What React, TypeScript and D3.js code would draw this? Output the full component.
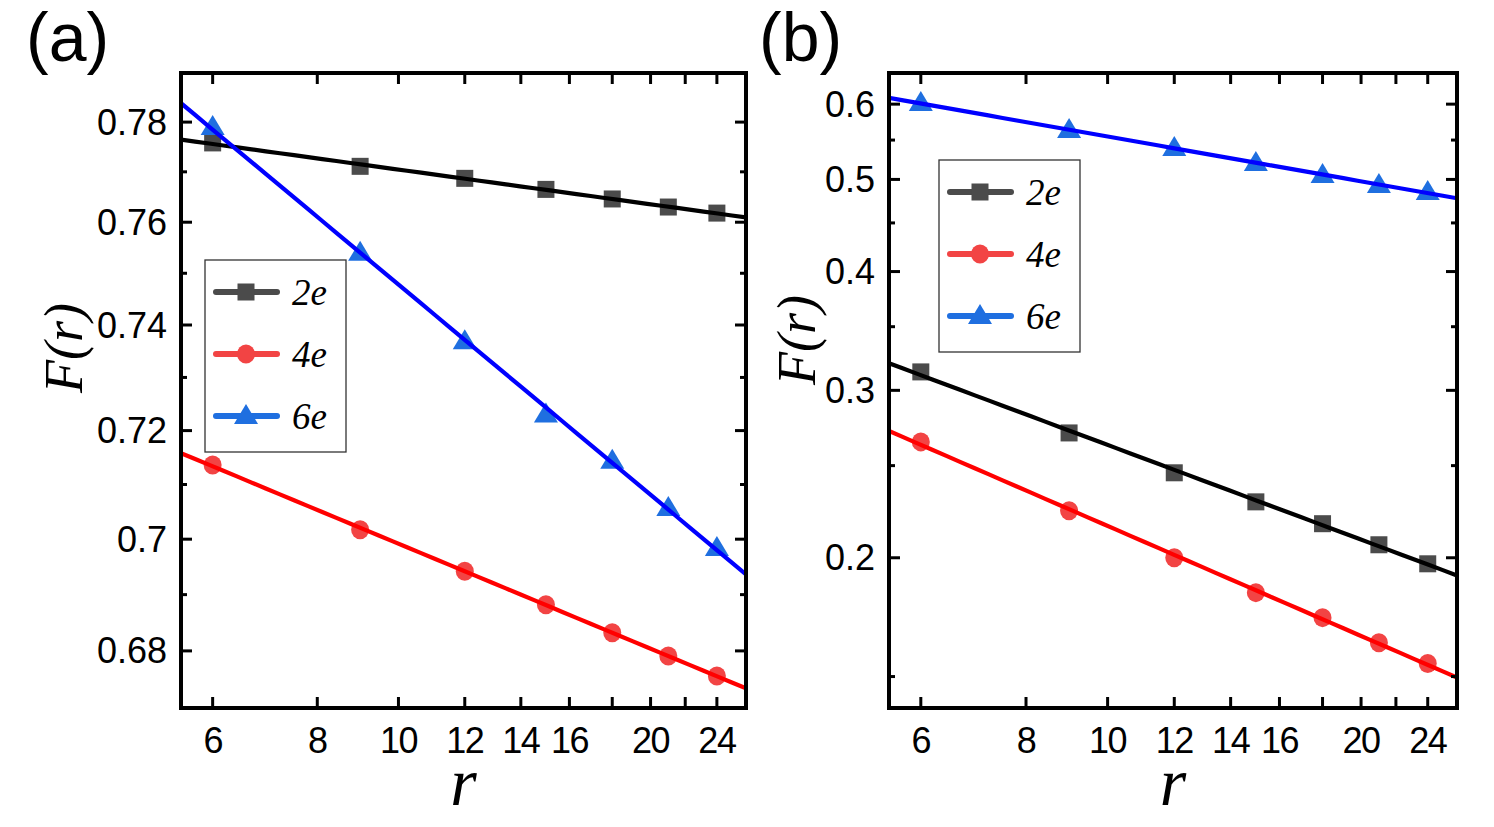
import React from "react";
import * as d3 from "d3";

const rValues = [6, 9, 12, 15, 18, 21, 24];
const a2e = [0.7758, 0.7711, 0.7687, 0.7665, 0.7646, 0.763, 0.7618];
const a4e = [0.7136, 0.7017, 0.6942, 0.6882, 0.6832, 0.6791, 0.6756];
const a6e = [0.779, 0.754, 0.7369, 0.723, 0.7144, 0.7057, 0.6984];
const b2e = [0.3137, 0.2706, 0.2457, 0.229, 0.2172, 0.2064, 0.1971];
const b4e = [0.2648, 0.2241, 0.2, 0.1838, 0.173, 0.1628, 0.1548];
const b6e = [0.6015, 0.5635, 0.5395, 0.5203, 0.5053, 0.4933, 0.485];

const xDomain = [5.5, 26];
const xTicks = [6, 8, 10, 12, 14, 16, 18, 20, 22, 24];
const xTickLabels = ["6", "8", "10", "12", "14", "16", "", "20", "", "24"];

const aYDomain = [0.67, 0.79];
const aYMajor = [0.68, 0.7, 0.72, 0.74, 0.76, 0.78];
const aYMajorLabels = ["0.68", "0.7", "0.72", "0.74", "0.76", "0.78"];
const aYMinor = [0.69, 0.71, 0.73, 0.75, 0.77];

const bYDomain = [0.139, 0.647];
const bYMajor = [0.2, 0.3, 0.4, 0.5, 0.6];
const bYMajorLabels = ["0.2", "0.3", "0.4", "0.5", "0.6"];
const bYMinor = [0.15, 0.25, 0.35, 0.45, 0.55];

const seriesNames = ["2e", "4e", "6e"];
const markerColors = ["#4b4b4b", "#f24444", "#1f6fe0"];
const fitColors = ["#000000", "#ff0000", "#0000ff"];
const markerShapes = ["square", "circle", "triangle"];

const SANS = "'Liberation Sans', Arial, sans-serif";
const SERIF = "'Liberation Serif', 'Times New Roman', serif";

function fitPower(xs: number[], ys: number[]) {
  const lx = xs.map(Math.log);
  const ly = ys.map(Math.log);
  const mx = d3.mean(lx)!;
  const my = d3.mean(ly)!;
  let num = 0;
  let den = 0;
  lx.forEach((v, i) => {
    num += (v - mx) * (ly[i] - my);
    den += (v - mx) * (v - mx);
  });
  const b = num / den;
  const a = my - b * mx;
  return (x: number) => Math.exp(a + b * Math.log(x));
}

function Marker({ shape, x, y, color }: { shape: string; x: number; y: number; color: string }) {
  if (shape === "square") {
    const s = 17;
    return <rect x={x - s / 2} y={y - s / 2} width={s} height={s} fill={color} />;
  }
  if (shape === "circle") {
    return <ellipse cx={x} cy={y} rx={9} ry={9.5} fill={color} />;
  }
  const w = 24;
  const h = 20;
  const p = `M${x},${y - h * 0.6} L${x + w / 2},${y + h * 0.4} L${x - w / 2},${y + h * 0.4} Z`;
  return <path d={p} fill={color} />;
}

type PanelProps = {
  left: number;
  right: number;
  top: number;
  bottom: number;
  yDomain: number[];
  yMajor: number[];
  yMajorLabels: string[];
  yMinor: number[];
  series: number[][];
  label: string;
  labelX: number;
  legendX: number;
  legendY: number;
  yTitleX: number;
  yTitleY: number;
};

function Panel(p: PanelProps) {
  const x = d3.scaleLog().domain(xDomain).range([p.left, p.right]);
  const y = d3.scaleLog().domain(p.yDomain).range([p.bottom, p.top]);
  const majorLen = 11;
  const minorLen = 6;
  const fitXs = d3.range(0, 41).map((i) => xDomain[0] * Math.pow(xDomain[1] / xDomain[0], i / 40));
  const legW = 141;
  const legH = 192;
  const clipId = "clip" + p.label.replace(/[()]/g, "");
  return (
    <g>
      <defs>
        <clipPath id={clipId}>
          <rect x={p.left} y={p.top} width={p.right - p.left} height={p.bottom - p.top} />
        </clipPath>
      </defs>
      {p.series.map((vals, si) =>
        vals.map((v, i) => (
          <Marker key={`${si}-${i}`} shape={markerShapes[si]} x={x(rValues[i])} y={y(v)} color={markerColors[si]} />
        ))
      )}
      <g clipPath={`url(#${clipId})`}>
        {p.series.map((vals, si) => {
          const f = fitPower(rValues, vals);
          const d = d3
            .line<number>()
            .x((xx) => x(xx))
            .y((xx) => y(f(xx)))(fitXs);
          return <path key={si} d={d || ""} fill="none" stroke={fitColors[si]} strokeWidth={4.2} />;
        })}
      </g>
      {xTicks.map((t, i) => (
        <g key={"xt" + i}>
          <line x1={x(t)} x2={x(t)} y1={p.bottom} y2={p.bottom - majorLen} stroke="#000" strokeWidth={3} />
          <line x1={x(t)} x2={x(t)} y1={p.top} y2={p.top + majorLen} stroke="#000" strokeWidth={3} />
          {xTickLabels[i] && (
            <text
              x={x(t)}
              y={p.bottom + 45}
              textAnchor="middle"
              fontFamily={SANS}
              fontSize={36}
              letterSpacing={-1.5}
              fill="#000"
            >
              {xTickLabels[i]}
            </text>
          )}
        </g>
      ))}
      {p.yMajor.map((t, i) => (
        <g key={"ym" + i}>
          <line x1={p.left} x2={p.left + majorLen} y1={y(t)} y2={y(t)} stroke="#000" strokeWidth={3} />
          <line x1={p.right} x2={p.right - majorLen} y1={y(t)} y2={y(t)} stroke="#000" strokeWidth={3} />
          <text x={p.left - 14} y={y(t)} dy="0.35em" textAnchor="end" fontFamily={SANS} fontSize={36} fill="#000">
            {p.yMajorLabels[i]}
          </text>
        </g>
      ))}
      {p.yMinor.map((t, i) => (
        <g key={"yn" + i}>
          <line x1={p.left} x2={p.left + minorLen} y1={y(t)} y2={y(t)} stroke="#000" strokeWidth={3} />
          <line x1={p.right} x2={p.right - minorLen} y1={y(t)} y2={y(t)} stroke="#000" strokeWidth={3} />
        </g>
      ))}
      <rect x={p.left} y={p.top} width={p.right - p.left} height={p.bottom - p.top} fill="none" stroke="#000" strokeWidth={4} />
      <g>
        <rect x={p.legendX} y={p.legendY} width={legW} height={legH} fill="#fff" stroke="#333" strokeWidth={1.3} />
        {seriesNames.map((n, i) => {
          const cy = p.legendY + 32 + i * 62;
          return (
            <g key={"lg" + i}>
              <line x1={p.legendX + 11} x2={p.legendX + 72} y1={cy} y2={cy} stroke={markerColors[i]} strokeWidth={6} strokeLinecap="round" />
              <Marker shape={markerShapes[i]} x={p.legendX + 41} y={cy} color={markerColors[i]} />
              <text x={p.legendX + 87} y={cy} dy="0.35em" fontFamily={SERIF} fontStyle="italic" fontSize={37} fill="#000">
                {n}
              </text>
            </g>
          );
        })}
      </g>
      <text
        x={(p.left + p.right) / 2}
        y={p.bottom + 97}
        textAnchor="middle"
        fontFamily={SERIF}
        fontStyle="italic"
        fontSize={68}
        fill="#000"
      >
        r
      </text>
      <text
        transform={`translate(${p.yTitleX},${p.yTitleY}) rotate(-90)`}
        textAnchor="middle"
        dy="0.35em"
        fontFamily={SERIF}
        fontStyle="italic"
        fontSize={54}
        fill="#000"
      >
        F(r)
      </text>
      <text x={p.labelX} y={61} fontFamily={SANS} fontSize={68} fill="#000">
        {p.label}
      </text>
    </g>
  );
}

export default function App() {
  return (
    <div style={{ position: "absolute", left: 0, top: 0 }}>
      <svg width={1494} height={827} viewBox="0 0 1494 827" style={{ display: "block", background: "#fff" }}>
        <Panel
          left={181}
          right={746}
          top={73}
          bottom={708}
          yDomain={aYDomain}
          yMajor={aYMajor}
          yMajorLabels={aYMajorLabels}
          yMinor={aYMinor}
          series={[a2e, a4e, a6e]}
          label="(a)"
          labelX={26}
          legendX={205}
          legendY={260}
          yTitleX={63}
          yTitleY={348}
        />
        <Panel
          left={889}
          right={1457}
          top={73}
          bottom={708}
          yDomain={bYDomain}
          yMajor={bYMajor}
          yMajorLabels={bYMajorLabels}
          yMinor={bYMinor}
          series={[b2e, b4e, b6e]}
          label="(b)"
          labelX={759}
          legendX={939}
          legendY={160}
          yTitleX={796}
          yTitleY={340}
        />
      </svg>
    </div>
  );
}
